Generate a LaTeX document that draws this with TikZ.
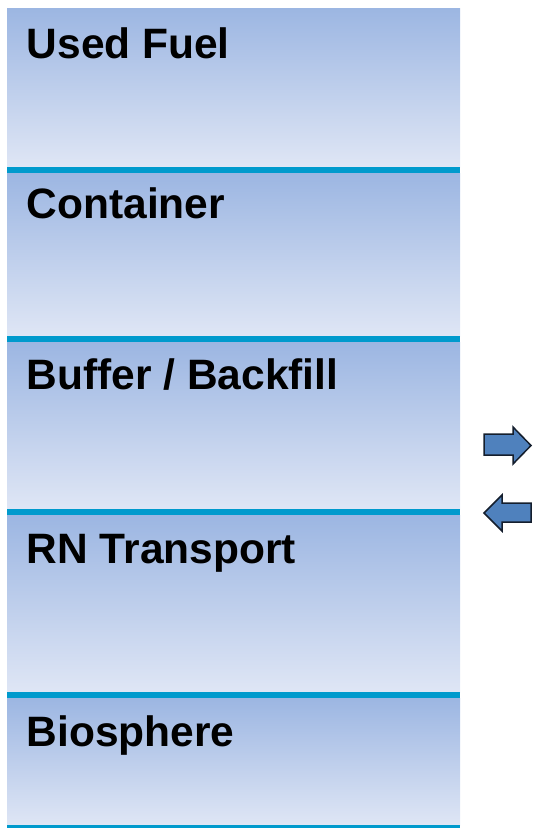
\documentclass[tikz,border=0pt]{standalone}
\usepackage{fontspec}
\setmainfont{Liberation Sans}
\definecolor{topblue}{RGB}{156,182,226}
\definecolor{botblue}{RGB}{223,230,245}
\definecolor{teal}{RGB}{0,154,205}
\definecolor{arrowfill}{RGB}{79,129,189}
\definecolor{arrowedge}{RGB}{20,30,45}
\begin{document}
\begin{tikzpicture}[x=1pt,y=-1pt,
  layer/.style={anchor=north west, inner sep=0pt, outer sep=0pt, minimum width=453pt,
    top color=topblue, bottom color=botblue, draw=none},
  sep/.style={anchor=north west, inner sep=0pt, outer sep=0pt, minimum width=453pt, fill=teal, draw=none},
  label/.style={anchor=base west, inner sep=0pt, font=\bfseries\fontsize{42.5}{48}\selectfont},
  fatarrow/.style={fill=arrowfill, draw=arrowedge, line width=1.5pt, line join=miter}]
\useasboundingbox (0,0) rectangle (533,828);
% layers
\node[layer, minimum height=159pt] (l1) at (7,8) {};
\node[sep, minimum height=6pt] (s1) at (7,167) {};
\node[layer, minimum height=163pt] (l2) at (7,173) {};
\node[sep, minimum height=6pt] (s2) at (7,336) {};
\node[layer, minimum height=167pt] (l3) at (7,342) {};
\node[sep, minimum height=6pt] (s3) at (7,509) {};
\node[layer, minimum height=177pt] (l4) at (7,515) {};
\node[sep, minimum height=6pt] (s4) at (7,692) {};
\node[layer, minimum height=127pt] (l5) at (7,698) {};
\node[sep, minimum height=2.5pt] (s5) at (7,825) {};
% labels
\node[label] (t1) at (26.5,58.5) {Used Fuel};
\node[label] (t2) at (26.5,218) {Container};
\node[label] (t3) at (26.5,389) {Buffer / Backfill};
\node[label] (t4) at (26.5,563) {RN Transport};
\node[label] (t5) at (26.5,746.5) {Biosphere};
% arrows
\draw[fatarrow] (484,434) -- (513,434) -- (513,427) -- (531,445.5) -- (513,464) -- (513,455) -- (484,455) -- cycle;
\draw[fatarrow] (531,503) -- (502,503) -- (502,495) -- (484,513) -- (502,531) -- (502,522) -- (531,522) -- cycle;
\end{tikzpicture}
\end{document}
